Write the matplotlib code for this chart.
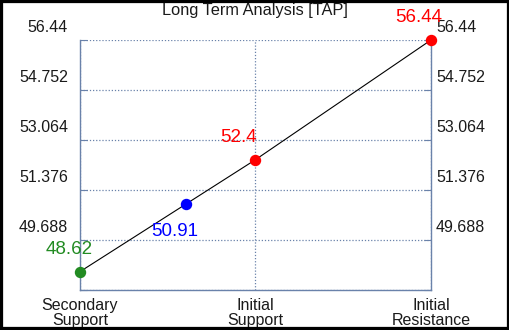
import matplotlib
matplotlib.use("Agg")
import matplotlib.pyplot as plt
from matplotlib.patches import Rectangle

plt.rcParams['font.family'] = ['Liberation Sans', 'DejaVu Sans']

title = "Long Term Analysis [TAP]"
categories = ["Secondary\nSupport", "Initial\nSupport", "Initial\nResistance"]
point_x = [0, 0.606, 1, 2]
point_y = [48.62, 50.91, 52.4, 56.44]
point_labels = ["48.62", "50.91", "52.4", "56.44"]
point_colors = ["#228B22", "#0000FF", "#FF0000", "#FF0000"]
label_offsets = [(-11, 22), (-12, -28), (-17, 22), (-12, 23)]
yticks = [48.0, 49.688, 51.376, 53.064, 54.752, 56.44]

W, H = 510, 330
fig = plt.figure(figsize=(W / 100, H / 100), dpi=100)
fig.patch.set_facecolor("white")
ax = fig.add_axes([80 / W, 1 - 290 / H, (431 - 80) / W, 250 / H])
ax.set_xlim(0, 2)
ax.set_ylim(yticks[0], yticks[-1])

grid_c = "#6a82aa"
for s in ["left", "right", "bottom"]:
    ax.spines[s].set_color(grid_c)
    ax.spines[s].set_linewidth(1.0)
ax.spines["top"].set_visible(False)

ax.set_yticks(yticks)
ax.set_xticks([0, 1, 2])
ax.tick_params(axis="y", which="both", direction="in", length=5, color=grid_c,
               left=True, right=True, labelleft=False, labelright=False)
ax.tick_params(axis="x", length=0, labelbottom=False)
ax.grid(True, color=grid_c, linestyle=(0, (1, 1.5)), linewidth=0.9)

for v in yticks[1:]:
    lab = ("%g" % v)
    ax.annotate(lab, xy=(0, v), xycoords=("axes fraction", "data"),
                xytext=(-12, 13), textcoords="offset pixels",
                ha="right", va="center", fontsize=11.5, color="#1a1a1a")
    ax.annotate(lab, xy=(1, v), xycoords=("axes fraction", "data"),
                xytext=(5, 13), textcoords="offset pixels",
                ha="left", va="center", fontsize=11.5, color="#1a1a1a")

for i, c in enumerate(categories):
    ax.annotate(c, xy=(i, yticks[0]), xycoords="data",
                xytext=(0, -23), textcoords="offset pixels",
                ha="center", va="center", fontsize=11.5, color="#1a1a1a",
                linespacing=0.95)

ax.plot(point_x, point_y, color="black", linewidth=0.8, zorder=3, clip_on=False)
for x, y, c, lab, off in zip(point_x, point_y, point_colors, point_labels, label_offsets):
    ax.plot([x], [y], "o", color=c, markersize=7.2, zorder=4, clip_on=False)
    ax.annotate(lab, xy=(x, y), xytext=off, textcoords="offset pixels",
                ha="center", va="center", fontsize=13.5, color=c, zorder=5)

fig.text(0.5, 1 - 10 / H, title, ha="center", va="center", fontsize=11.8, color="#1a1a1a")

fig.patches.append(Rectangle((0, 0), 1, 1, transform=fig.transFigure, fill=False,
                             edgecolor="black", linewidth=4.5, zorder=10))

fig.savefig("out.png", dpi=100, facecolor="white")
